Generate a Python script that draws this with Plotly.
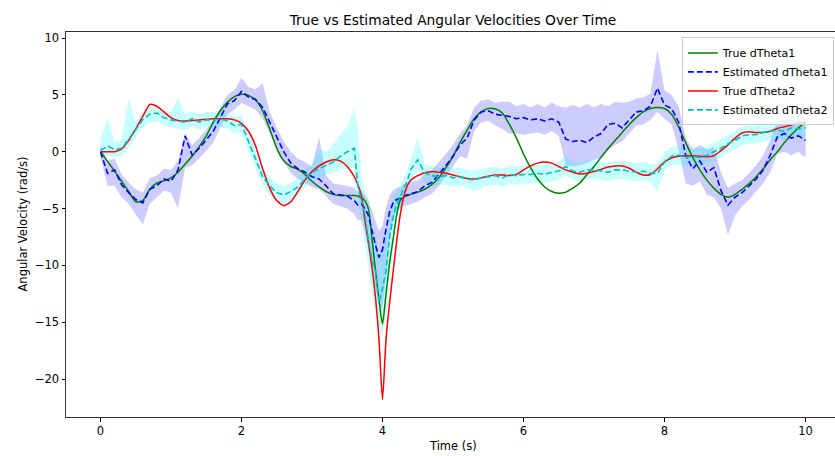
import plotly.graph_objects as go

# time samples (s)
t = [0.0, 0.1, 0.2, 0.3, 0.4, 0.5, 0.6, 0.7, 0.8, 0.9,
     1.0, 1.1, 1.2, 1.3, 1.4, 1.5, 1.6, 1.7, 1.8, 1.9,
     2.0, 2.1, 2.2, 2.3, 2.4, 2.5, 2.6, 2.7, 2.8, 2.9,
     3.0, 3.1, 3.2, 3.3, 3.4, 3.5, 3.6, 3.65, 3.7, 3.75, 3.8, 3.85, 3.9, 3.95,
     4.0, 4.05, 4.1, 4.15, 4.2, 4.25, 4.3, 4.35, 4.4, 4.5, 4.6, 4.7, 4.8, 4.9,
     5.0, 5.1, 5.2, 5.3, 5.4, 5.5, 5.6, 5.7, 5.8, 5.9,
     6.0, 6.1, 6.2, 6.3, 6.4, 6.5, 6.6, 6.7, 6.8, 6.9,
     7.0, 7.1, 7.2, 7.3, 7.4, 7.5, 7.6, 7.7, 7.8, 7.9,
     8.0, 8.1, 8.2, 8.3, 8.4, 8.5, 8.6, 8.7, 8.8, 8.9,
     9.0, 9.1, 9.2, 9.3, 9.4, 9.5, 9.6, 9.7, 9.8, 9.9,
     10.0]

true_dtheta1 = [0.0, -0.85, -1.7, -2.6, -3.5, -4.4, -4.3, -3.3, -2.75, -2.55,
                -2.3, -1.8, -1.1, -0.4, 0.45, 1.4, 2.6, 3.6, 4.35, 4.85,
                5.05, 4.95, 4.55, 3.6, 2.0, 0.3, -0.8, -1.3, -1.55, -2.0,
                -2.6, -3.1, -3.5, -3.75, -3.85, -3.85, -3.85, -3.9, -4.05, -4.3, -5.0, -7.6, -10.4, -13.0,
                -15.15, -12.5, -9.8, -7.7, -5.6, -4.3, -4.0, -3.85, -3.75, -3.55, -3.3, -2.9, -2.3, -1.4,
                -0.4, 0.8, 1.9, 2.9, 3.5, 3.8, 3.75, 3.4, 2.4, 1.2,
                -0.2, -1.4, -2.4, -3.1, -3.5, -3.65, -3.55, -3.2, -2.75, -2.0,
                -1.3, -0.5, 0.3, 1.0, 1.7, 2.4, 3.0, 3.5, 3.8, 3.9,
                3.8, 3.3, 2.2, 0.8, -0.5, -1.6, -2.5, -3.2, -3.75, -4.0,
                -3.75, -3.3, -2.8, -2.2, -1.5, -0.7, 0.0, 0.8, 1.5, 2.1,
                2.6]

est_dtheta1 = [0.0, -1.9, -1.6, -2.9, -3.6, -4.2, -4.5, -3.3, -3.0, -2.4,
               -2.6, -1.6, 1.4, -0.3, 0.3, 1.0, 1.8, 3.0, 4.2, 4.5,
               5.3, 4.8, 4.6, 3.9, 2.6, 1.2, 0.0, -1.0, -1.5, -1.8,
               -2.2, -2.4, -3.0, -3.7, -3.8, -3.9, -4.3, -4.7, -4.6, -5.0, -5.6, -7.0, -8.2, -9.3,
               -8.6, -6.8, -5.3, -4.5, -4.2, -4.1, -3.9, -3.8, -3.7, -3.5, -3.0, -2.7, -2.0, -1.2,
               -0.4, 0.6, 1.2, 2.8, 3.5, 3.6, 3.3, 3.2, 3.1, 2.9,
               3.0, 2.8, 2.9, 2.7, 2.9, 2.6, 1.1, 0.9, 1.0, 0.8,
               1.3, 1.6, 2.4, 2.5, 2.1, 2.8, 3.5, 3.6, 4.0, 5.6,
               4.1, 3.8, 2.6, -0.3, -1.5, -0.8, -1.8, -1.4, -3.4, -4.7,
               -4.0, -3.6, -3.0, -2.4, -1.6, -0.3, 1.3, 1.6, 1.2, 1.4,
               1.0]

est1_upper = [0.6, -0.8, -0.6, -2.0, -2.7, -3.3, -3.6, -2.3, -2.1, -1.5,
              -1.6, -0.8, 1.6, 0.6, 1.2, 1.9, 2.7, 3.9, 5.0, 5.4,
              6.5, 5.7, 5.5, 6.0, 3.5, 2.1, 0.9, 0.0, -0.6, -0.9,
              -1.3, 1.3, -2.1, -2.8, -2.9, -3.0, -3.2, -3.6, -3.5, -3.8, -4.2, -5.2, -6.2, -7.0,
              -6.5, -4.9, -3.8, -3.4, -3.2, -3.1, -2.9, -2.8, -2.7, -2.5, -2.0, -1.6, -0.9, -0.2,
              0.6, 1.6, 2.3, 3.9, 4.5, 4.6, 4.3, 4.4, 4.4, 4.0,
              4.2, 3.9, 4.2, 3.9, 4.3, 4.0, 3.9, 4.1, 3.9, 4.2,
              3.9, 4.2, 4.0, 4.4, 4.3, 4.4, 4.7, 4.8, 5.1, 9.0,
              5.4, 5.0, 4.0, 1.2, 0.2, 0.6, 0.2, 0.4, -1.8, -3.2,
              -2.8, -2.5, -1.9, -1.2, -0.3, 1.0, 2.7, 2.8, 2.8, 3.3,
              2.6]

est1_lower = [-0.5, -3.0, -3.0, -4.0, -4.6, -5.5, -6.4, -4.6, -4.0, -3.4,
              -3.6, -5.0, -1.4, -1.2, -0.6, 0.1, 0.8, 2.1, 3.3, 3.7,
              4.3, 4.0, 3.7, 2.9, 1.6, 0.3, -0.9, -1.9, -2.4, -2.7,
              -3.1, -3.3, -3.9, -4.6, -4.8, -5.0, -5.5, -6.0, -6.0, -7.0, -8.5, -10.0, -12.0, -13.5,
              -13.8, -11.0, -8.0, -6.0, -5.2, -5.0, -4.8, -4.7, -4.6, -4.4, -4.0, -3.7, -3.0, -2.2,
              -1.3, -0.4, -0.6, 1.8, 2.6, 2.7, 2.3, 2.0, 1.6, 1.6,
              1.5, 1.6, 1.7, 1.5, 1.8, 1.4, -1.2, -1.3, -1.2, -1.0,
              -0.7, -0.6, 0.1, 0.6, 0.9, 1.6, 2.3, 2.4, 2.8, 3.5,
              2.9, 2.4, 0.2, -2.8, -3.0, -2.6, -3.8, -4.0, -5.0, -7.3,
              -5.6, -4.8, -4.2, -3.5, -2.8, -1.8, -0.2, 0.0, -0.3, 0.0,
              -0.5]

true_dtheta2 = [0.0, 0.0, 0.0, 0.25, 1.0, 2.0, 3.1, 4.15, 4.0, 3.5,
                3.0, 2.75, 2.7, 2.75, 2.8, 2.85, 2.9, 2.9, 2.9, 2.8,
                2.5, 1.8, 0.5, -1.5, -3.2, -4.3, -4.75, -4.4, -3.5, -2.5,
                -1.75, -1.25, -0.9, -0.7, -0.8, -1.3, -2.2, -2.9, -3.8, -6.0, -8.0, -10.2, -12.8, -16.5,
                -21.8, -16.5, -13.3, -10.6, -7.9, -5.6, -4.0, -3.0, -2.5, -2.1, -1.85, -1.75, -1.8, -1.9,
                -2.05, -2.2, -2.35, -2.4, -2.3, -2.15, -2.05, -2.05, -2.1, -2.0,
                -1.6, -1.25, -1.0, -0.9, -1.0, -1.3, -1.6, -1.8, -1.95, -1.9,
                -1.75, -1.55, -1.35, -1.25, -1.25, -1.45, -1.8, -2.05, -2.0, -1.5,
                -0.9, -0.55, -0.4, -0.35, -0.35, -0.4, -0.45, -0.35, 0.1, 0.6,
                1.2, 1.65, 1.75, 1.7, 1.7, 1.8, 2.05, 2.2, 2.35, 2.5,
                2.6]

est_dtheta2 = [0.1, 0.5, 0.2, 0.3, 1.1, 1.9, 2.8, 3.3, 3.4, 3.0,
               2.8, 2.7, 2.6, 2.9, 2.6, 2.8, 2.8, 2.9, 2.7, 2.3,
               2.4, 0.9, -0.6, -2.2, -3.0, -3.6, -3.8, -3.5, -3.1, -2.4,
               -1.8, -1.5, -1.2, -0.9, -0.4, 0.0, 0.3, -3.0, -4.2, -5.5, -7.8, -9.5, -10.5, -13.3,
               -12.0, -10.5, -7.5, -5.8, -4.6, -4.0, -3.2, -2.6, -1.6, -0.7, -1.9, -2.1, -2.2, -2.1,
               -2.3, -2.2, -2.4, -2.5, -2.3, -2.2, -2.1, -2.3, -2.0, -2.1,
               -2.0, -2.0, -1.9, -2.0, -1.8, -1.7, -1.3, -1.7, -1.8, -1.6,
               -1.6, -1.7, -1.8, -1.6, -1.6, -1.7, -1.8, -1.7, -1.9, -1.9,
               -0.9, -0.4, -0.3, -0.5, -0.4, -0.5, -0.3, 0.0, 0.3, 0.7,
               1.0, 1.4, 1.5, 1.5, 1.7, 1.8, 1.9, 1.8, 2.1, 2.0,
               2.1]

est2_upper = [1.1, 3.0, 0.9, 1.0, 4.8, 2.6, 3.5, 4.0, 4.1, 3.7,
              3.5, 4.8, 3.3, 3.6, 3.3, 3.5, 3.5, 3.6, 3.4, 3.0,
              3.2, 1.7, 0.2, -1.4, -2.2, -2.8, -3.0, -2.7, -2.3, -1.6,
              -1.0, 0.2, 0.0, 0.6, 1.5, 2.2, 3.8, 2.0, -2.0, -3.5, -5.5, -6.5, -7.5, -9.0,
              -8.5, -7.5, -5.0, -4.0, -3.5, -3.0, -2.3, -1.7, -0.6, 1.3, -1.1, -1.3, -1.4, -1.3,
              -1.5, -1.4, -1.6, -1.7, -1.5, -1.4, -1.3, -1.5, -1.2, -1.3,
              -1.2, -1.2, -1.1, -1.2, -1.0, -0.9, -0.3, -0.9, -1.0, -0.8,
              -0.8, -0.9, -1.0, -0.8, -0.8, -0.9, -1.0, -0.9, -1.1, -1.1,
              0.0, 0.4, 0.5, 0.3, 0.4, 0.3, 0.5, 0.8, 1.1, 1.5,
              1.8, 2.2, 2.3, 2.3, 3.6, 2.6, 2.7, 2.6, 2.9, 2.8,
              2.9]

est2_lower = [-0.6, -0.3, -0.5, -0.4, 0.4, 1.2, 2.1, 2.6, 2.7, 2.3,
              2.1, 2.0, 1.9, 2.2, 1.9, 2.1, 2.1, 2.2, 2.0, 1.6,
              1.6, 0.1, -1.4, -3.0, -3.8, -4.4, -4.6, -4.3, -3.9, -3.2,
              -2.6, -2.3, -2.0, -1.9, -1.6, -1.5, -1.4, -4.5, -6.0, -8.0, -10.5, -12.5, -14.0, -16.0,
              -16.0, -14.0, -10.5, -8.0, -6.0, -5.0, -4.2, -3.5, -2.5, -1.6, -2.7, -2.9, -3.0, -2.9,
              -3.1, -3.0, -3.2, -3.5, -3.2, -3.0, -2.9, -3.1, -2.8, -2.9,
              -2.8, -2.8, -2.7, -2.8, -2.6, -2.5, -2.1, -2.5, -2.6, -2.4,
              -2.4, -2.5, -2.6, -2.4, -2.4, -2.5, -2.6, -2.5, -2.7, -3.5,
              -1.7, -1.2, -1.1, -1.3, -1.2, -1.3, -1.1, -0.8, -0.5, -0.1,
              0.2, 0.6, 0.7, 0.7, 0.9, 1.0, 1.1, 1.0, 1.3, 1.2,
              1.3]

x_ticks = [0, 2, 4, 6, 8, 10]
y_ticks = [-20, -15, -10, -5, 0, 5, 10]

FONT = "DejaVu Sans"
fig = go.Figure()

# uncertainty bands
for upper, lower, fc in [(est1_upper, est1_lower, "rgba(0,0,255,0.2)"),
                         (est2_upper, est2_lower, "rgba(0,255,255,0.22)")]:
    fig.add_trace(go.Scatter(x=t, y=upper, mode="lines", line=dict(width=0),
                             showlegend=False, hoverinfo="skip"))
    fig.add_trace(go.Scatter(x=t, y=lower, mode="lines", line=dict(width=0),
                             fill="tonexty", fillcolor=fc,
                             showlegend=False, hoverinfo="skip"))

fig.add_trace(go.Scatter(x=t, y=true_dtheta1, mode="lines", name="True dTheta1",
                         line=dict(color="#008000", width=1.5, shape="spline", smoothing=0.6)))
fig.add_trace(go.Scatter(x=t, y=est_dtheta1, mode="lines", name="Estimated dTheta1",
                         line=dict(color="#0000ff", width=1.6, dash="6px,3px")))
fig.add_trace(go.Scatter(x=t, y=true_dtheta2, mode="lines", name="True dTheta2",
                         line=dict(color="#ff0000", width=1.5, shape="spline", smoothing=0.6)))
fig.add_trace(go.Scatter(x=t, y=est_dtheta2, mode="lines", name="Estimated dTheta2",
                         line=dict(color="#00bfbf", width=1.6, dash="6px,3px")))

axis_common = dict(showgrid=False, zeroline=False, ticks="outside", ticklen=3.5,
                   tickwidth=0.8, tickcolor="#000", showline=True, linecolor="#333",
                   linewidth=1, tickfont=dict(family=FONT, size=11.5, color="#000"))

fig.update_layout(
    width=835, height=456,
    margin=dict(l=66, r=0, t=32, b=39, autoexpand=False),
    paper_bgcolor="white", plot_bgcolor="white",
    font=dict(family=FONT, color="#000"),
    title=dict(text="True vs Estimated Angular Velocities Over Time",
               x=453 / 835, xref="container", xanchor="center",
               y=1 - 20 / 456, yref="container", yanchor="middle",
               font=dict(family=FONT, size=13.8, color="#000")),
    xaxis=dict(range=[-0.489, 10.418], tickvals=x_ticks, mirror=True, **axis_common),
    yaxis=dict(range=[-23.33, 10.53], tickvals=y_ticks, mirror=False, **axis_common),
    legend=dict(x=0.9985, xanchor="right", y=0.986, yanchor="top", traceorder="normal",
                bgcolor="rgba(255,255,255,0.8)", bordercolor="#cccccc", borderwidth=1,
                font=dict(family=FONT, size=11, color="#000"), itemwidth=30),
    showlegend=True,
    annotations=[
        dict(text="Time (s)", xref="paper", yref="paper", x=(453 - 66) / 769,
             y=-(446 - 417) / 385, xanchor="center", yanchor="middle", showarrow=False,
             font=dict(family=FONT, size=11.5, color="#000")),
        dict(text="Angular Velocity (rad/s)", xref="paper", yref="paper",
             x=-(66 - 22) / 769, y=0.5, xanchor="center", yanchor="middle",
             textangle=-90, showarrow=False,
             font=dict(family=FONT, size=11.5, color="#000")),
    ],
)

fig.write_html("out.html")
